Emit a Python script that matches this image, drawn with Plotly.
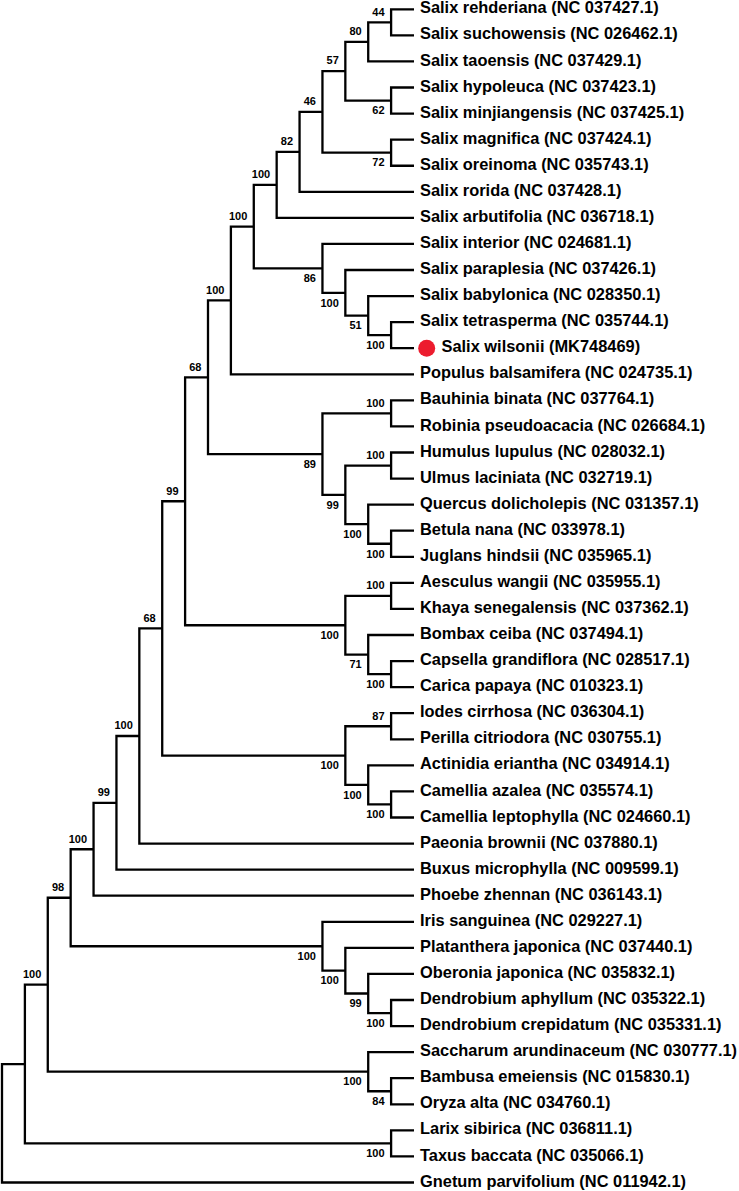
import plotly.graph_objects as go

# ---- data -----------------------------------------------------------------
taxa = [
    "Salix rehderiana (NC 037427.1)", "Salix suchowensis (NC 026462.1)",
    "Salix taoensis (NC 037429.1)", "Salix hypoleuca (NC 037423.1)",
    "Salix minjiangensis (NC 037425.1)", "Salix magnifica (NC 037424.1)",
    "Salix oreinoma (NC 035743.1)", "Salix rorida (NC 037428.1)",
    "Salix arbutifolia (NC 036718.1)", "Salix interior (NC 024681.1)",
    "Salix paraplesia (NC 037426.1)", "Salix babylonica (NC 028350.1)",
    "Salix tetrasperma (NC 035744.1)", "Salix wilsonii (MK748469)",
    "Populus balsamifera (NC 024735.1)", "Bauhinia binata (NC 037764.1)",
    "Robinia pseudoacacia (NC 026684.1)", "Humulus lupulus (NC 028032.1)",
    "Ulmus laciniata (NC 032719.1)", "Quercus dolicholepis (NC 031357.1)",
    "Betula nana (NC 033978.1)", "Juglans hindsii (NC 035965.1)",
    "Aesculus wangii (NC 035955.1)", "Khaya senegalensis (NC 037362.1)",
    "Bombax ceiba (NC 037494.1)", "Capsella grandiflora (NC 028517.1)",
    "Carica papaya (NC 010323.1)", "Iodes cirrhosa (NC 036304.1)",
    "Perilla citriodora (NC 030755.1)", "Actinidia eriantha (NC 034914.1)",
    "Camellia azalea (NC 035574.1)", "Camellia leptophylla (NC 024660.1)",
    "Paeonia brownii (NC 037880.1)", "Buxus microphylla (NC 009599.1)",
    "Phoebe zhennan (NC 036143.1)", "Iris sanguinea (NC 029227.1)",
    "Platanthera japonica (NC 037440.1)", "Oberonia japonica (NC 035832.1)",
    "Dendrobium aphyllum (NC 035322.1)", "Dendrobium crepidatum (NC 035331.1)",
    "Saccharum arundinaceum (NC 030777.1)", "Bambusa emeiensis (NC 015830.1)",
    "Oryza alta (NC 034760.1)", "Larix sibirica (NC 036811.1)",
    "Taxus baccata (NC 035066.1)", "Gnetum parvifolium (NC 011942.1)",
]
highlight_taxon = "Salix wilsonii (MK748469)"

# topology with bootstrap support (tN = index into taxa)
newick = "(" * 18 + (
    "t0,t1)44,t2)80,(t3,t4)62)57,(t5,t6)72)46,t7)82,t8)100,"
    "(t9,(t10,(t11,(t12,t13)100)51)100)86)100,t14)100,"
    "((t15,t16)100,((t17,t18)100,(t19,(t20,t21)100)100)99)89)68,"
    "((t22,t23)100,(t24,(t25,t26)100)71)100)99,"
    "((t27,t28)87,(t29,(t30,t31)100)100)100)68,t32)100,t33)99,t34)100,"
    "(t35,(t36,(t37,(t38,t39)100)99)100)100)98,"
    "(t40,(t41,t42)84)100)100,(t43,t44)100),t45);"
)


# ---- parse ----------------------------------------------------------------
def parse(s):
    pos = 0

    def node():
        nonlocal pos
        if s[pos] == "(":
            pos += 1
            kids = [node()]
            while s[pos] == ",":
                pos += 1
                kids.append(node())
            assert s[pos] == ")"
            pos += 1
            lab = ""
            while pos < len(s) and s[pos] not in ",);":
                lab += s[pos]
                pos += 1
            return {"kids": kids, "support": lab}
        lab = ""
        while s[pos] not in ",);":
            lab += s[pos]
            pos += 1
        return {"kids": [], "leaf": int(lab[1:])}

    return node()


root = parse(newick)


def height(n):
    n["h"] = 0 if not n["kids"] else 1 + max(height(k) for k in n["kids"])
    return n["h"]


H = height(root)


def layout(n):
    n["x"] = H - n["h"]
    if not n["kids"]:
        n["y"] = n["leaf"]
    else:
        for k in n["kids"]:
            layout(k)
        n["y"] = (n["kids"][0]["y"] + n["kids"][-1]["y"]) / 2


layout(root)

# ---- geometry via data coordinates -----------------------------------------
PX_X = 22.889   # pixels per level
PX_Y = 26.071   # pixels per leaf
lx, ly = [], []
bx, by, bt = [], [], []


def walk(n):
    if not n["kids"]:
        return
    k0, k1 = n["kids"][0], n["kids"][-1]
    lx.extend([k0["x"], n["x"], n["x"], k1["x"], None])
    ly.extend([k0["y"], k0["y"], k1["y"], k1["y"], None])
    for i, k in enumerate(n["kids"]):
        if k["kids"] and k.get("support"):
            bx.append(k["x"] - 6.5 / PX_X)
            if i == 0:
                by.append(k["y"] - 9.5 / PX_Y)
            else:
                by.append(k["y"] + 11.0 / PX_Y)
            bt.append(k["support"])
        walk(k)


walk(root)

leaf_x, leaf_y, leaf_t = [], [], []
for i, name in enumerate(taxa):
    if name == highlight_taxon:
        leaf_x.append(H + 27.5 / PX_X)
    else:
        leaf_x.append(H + 6.0 / PX_X)
    leaf_y.append(i)
    leaf_t.append(name)

hi = taxa.index(highlight_taxon)

fig = go.Figure()
fig.add_trace(go.Scatter(
    x=lx, y=ly, mode="lines",
    line=dict(color="black", width=2.3),
    hoverinfo="skip", showlegend=False,
))
fig.add_trace(go.Scatter(
    x=leaf_x, y=leaf_y, text=leaf_t, mode="text",
    textposition="middle right",
    textfont=dict(family="Liberation Sans, Arial, sans-serif", size=16.4,
                  color="black", weight="bold"),
    hoverinfo="skip", showlegend=False,
))
fig.add_trace(go.Scatter(
    x=bx, y=by, text=bt, mode="text",
    textposition="middle left",
    textfont=dict(family="Liberation Sans, Arial, sans-serif", size=11,
                  color="black", weight="bold"),
    hoverinfo="skip", showlegend=False,
))
fig.add_trace(go.Scatter(
    x=[H + 12.7 / PX_X], y=[hi], mode="markers",
    marker=dict(color="#ec1c2e", size=17, line=dict(width=0)),
    hoverinfo="skip", showlegend=False,
))

x0 = -2.0 / PX_X
y0 = -9.3 / PX_Y
fig.update_layout(
    width=739, height=1191,
    margin=dict(l=0, r=0, t=0, b=0),
    paper_bgcolor="white", plot_bgcolor="white",
    xaxis=dict(range=[x0, x0 + 739 / PX_X], visible=False, fixedrange=True),
    yaxis=dict(range=[y0 + 1191 / PX_Y, y0], visible=False, fixedrange=True),
)
fig.write_html(
    "out.html",
    config={"displayModeBar": False},
    post_script="document.body.style.margin='0';document.body.style.overflow='hidden';",
)
